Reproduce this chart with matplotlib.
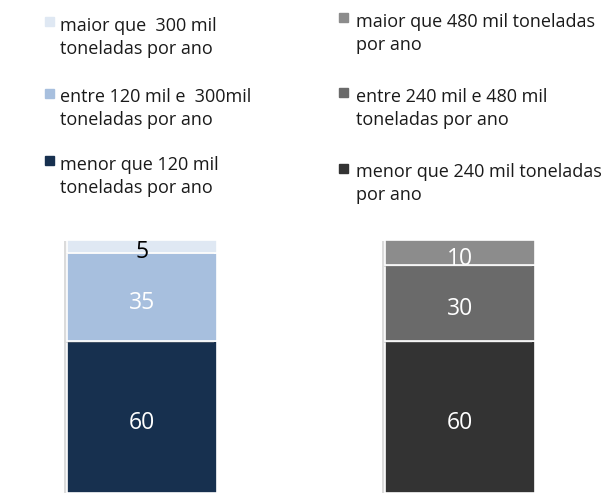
import matplotlib.pyplot as plt
from matplotlib.patches import Rectangle
import matplotlib.patheffects as pe

plt.rcParams['font.family'] = ['Open Sans', 'DejaVu Sans']

# Share of production by plant size (%), bottom segment first
left_values = [60, 35, 5]
left_labels = ['menor que 120 mil\ntoneladas por ano',
               'entre 120 mil e  300mil\ntoneladas por ano',
               'maior que  300 mil\ntoneladas por ano']
left_colors = ['#17304f', '#a7bfde', '#dfe8f3']
left_text_colors = ['white', 'white', 'black']

right_values = [60, 30, 10]
right_labels = ['menor que 240 mil toneladas\npor ano',
                'entre 240 mil e 480 mil\ntoneladas por ano',
                'maior que 480 mil toneladas\npor ano']
right_colors = ['#333333', '#6a6a6a', '#8c8c8c']
right_text_colors = ['white', 'white', 'white']

W, H = 610, 493
fig = plt.figure(figsize=(W / 100, H / 100), dpi=100)
fig.patch.set_facecolor('white')

shadow = [pe.SimplePatchShadow(offset=(-2, -1), shadow_rgbFace='#999999', alpha=0.35),
          pe.Normal()]


def stacked_bar(x0, values, colors, text_colors):
    ax = fig.add_axes([x0 / W, 0, 150 / W, 253 / H])
    ax.set_xlim(-0.5, 0.5)
    ax.set_ylim(0, 100)
    ax.axis('off')
    bottom = 0
    for v, c, tc in zip(values, colors, text_colors):
        bar = ax.bar(0, v, width=1, bottom=bottom, color=c,
                     edgecolor='white', linewidth=1.2, clip_on=False)
        bar[0].set_path_effects(shadow)
        ax.annotate(str(v), (0, bottom + v / 2), xytext=(0, -6),
                    textcoords='offset pixels', ha='center', va='center',
                    color=tc, fontsize=16.5, annotation_clip=False)
        bottom += v
    return ax


def legend_block(x_marker, x_text, baselines, labels, colors):
    # entries listed top to bottom: top segment first; y is the last line's baseline
    for (first, last), lab, c in zip(baselines, labels[::-1], colors[::-1]):
        fig.patches.append(Rectangle((x_marker / W, 1 - (first - 4) / H), 9 / W, 9 / H,
                                     transform=fig.transFigure, color=c))
        fig.text(x_text / W, 1 - last / H, lab, ha='left', va='baseline',
                 fontsize=13, color='#1a1a1a', linespacing=1.35)


stacked_bar(67, left_values, left_colors, left_text_colors)
stacked_bar(385, right_values, right_colors, right_text_colors)

legend_block(45, 60, [(30, 54), (102, 125), (169, 193)], left_labels, left_colors)
legend_block(339, 356, [(26, 50), (101, 125), (177, 200)], right_labels, right_colors)

fig.savefig('out.png', dpi=100)
